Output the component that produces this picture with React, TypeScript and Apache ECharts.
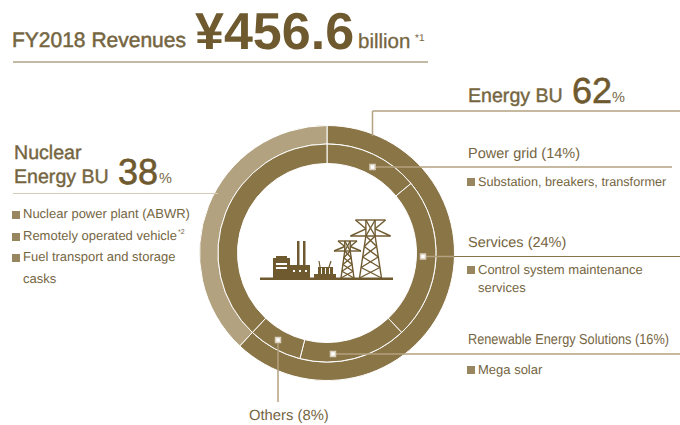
import React, { useEffect, useRef } from "react";
import * as echarts from "echarts";

const buNames = ["Energy BU", "Nuclear Energy BU"];
const buValues = [62, 38];
const segmentNames = ["Power grid", "Services", "Renewable Energy Solutions", "Others", "Nuclear"];
const segmentValues = [14, 24, 16, 8, 38];
const headline = ["FY2018 Revenues", "¥456.6", "billion", "*1"];
const nuclearItems = ["Nuclear power plant (ABWR)", "Remotely operated vehicle", "Fuel transport and storage", "casks"];
const powerItems = ["Substation, breakers, transformer"];
const serviceItems = ["Control system maintenance", "services"];
const renewableItems = ["Mega solar"];

const FONT = '"Liberation Sans", Arial, sans-serif';
const DARK = "#6f5a30";
const TEXT = "#75653f";
const RING = "#8a7547";
const LIGHT = "#b3a27f";
const BULLET = "#97865f";

const txt = (text: string, x: number, base: number, size: number, fill = TEXT, extra: any = {}) => ({
  type: "text", x, y: base - size * 0.34, z: 20, scaleX: extra.scaleX || 1,
  style: { text, fill, font: `${extra.weight || "normal"} ${size}px ${FONT}`, verticalAlign: "middle", align: "left",
    stroke: extra.stroke ? fill : undefined, lineWidth: extra.stroke || 0 },
});
const seg = (x1: number, y1: number, x2: number, y2: number, stroke = LIGHT, lineWidth = 1.5) => ({
  type: "line", z: 15, shape: { x1, y1, x2, y2 }, style: { stroke, lineWidth },
});
const box = (x: number, y: number, w: number, h: number, fill: string) => ({
  type: "rect", z: 16, shape: { x, y, width: w, height: h }, style: { fill },
});
const marker = (cx: number, cy: number) => ({
  type: "rect", z: 17, shape: { x: cx - 2.5, y: cy - 2.5, width: 5, height: 5 },
  style: { fill: "#fff", stroke: "#d9d0be", lineWidth: 1.5 },
});
const bullet = (x: number, y: number) => box(x, y, 8, 8, BULLET);

function tower(cx: number, top: number, bottom: number, halfFoot: number, armTop: number, armLow: number, yLow: number) {
  const c = DARK;
  const w = 1.4;
  const out: any[] = [];
  const waist = halfFoot * 0.42;
  const edge = (y: number) => y <= yLow ? waist : waist + (halfFoot - waist) * (y - yLow) / (bottom - yLow);
  out.push(seg(cx - waist, top, cx - waist, yLow, c, w), seg(cx + waist, top, cx + waist, yLow, c, w));
  out.push(seg(cx - waist, yLow, cx - halfFoot, bottom, c, w), seg(cx + waist, yLow, cx + halfFoot, bottom, c, w));
  out.push(seg(cx - armTop, top, cx + armTop, top, c, w));
  out.push(seg(cx - armTop, top, cx - waist, top + (yLow - top) * 0.55, c, w), seg(cx + armTop, top, cx + waist, top + (yLow - top) * 0.55, c, w));
  out.push(seg(cx - armLow, yLow, cx + armLow, yLow, c, w));
  out.push(seg(cx - armLow, yLow, cx - waist, top + (yLow - top) * 0.55, c, w), seg(cx + armLow, yLow, cx + waist, top + (yLow - top) * 0.55, c, w));
  const n = 4;
  out.push(seg(cx - waist, top, cx + waist, yLow, c, w), seg(cx + waist, top, cx - waist, yLow, c, w));
  for (let i = 0; i < n; i++) {
    const y1 = yLow + (bottom - yLow) * i / n, y2 = yLow + (bottom - yLow) * (i + 1) / n;
    out.push(seg(cx - edge(y1), y1, cx + edge(y2), y2, c, w), seg(cx + edge(y1), y1, cx - edge(y2), y2, c, w));
  }
  return out;
}

const icon = (): any[] => [
  box(260, 277.5, 133, 2.5, DARK),
  box(276, 256, 11, 3, DARK), box(273, 258, 17, 20, DARK),
  box(276, 263, 11, 2, "#fff"), box(276, 267, 11, 2, "#fff"),
  box(290, 265, 20, 13, DARK), box(297, 241, 2.5, 25, DARK), box(303, 241, 2.5, 25, DARK),
  box(293, 270, 2, 2, "#fff"), box(299, 270, 2, 2, "#fff"), box(305, 270, 2, 2, "#fff"),
  box(314, 274, 22, 4, DARK), box(318, 267, 15, 8, DARK),
  box(321, 268, 1, 6, "#fff"), box(325, 268, 1, 6, "#fff"), box(329, 268, 1, 6, "#fff"),
  seg(320, 267, 319, 261, DARK, 1.2), seg(329, 267, 331, 261, DARK, 1.2),
  ...tower(347.5, 241, 278, 6.5, 9.5, 13.5, 251),
  ...tower(370.5, 220, 278, 11, 15, 20, 236),
];

export default function App() {
  const ref = useRef<HTMLDivElement>(null);
  useEffect(() => {
    const chart = echarts.init(ref.current!, undefined, { renderer: "svg" });
    const graphics: any[] = [
      txt(headline[0], 12, 48, 21, TEXT, { stroke: 0.5 }),
      txt(headline[1], 195, 50, 52, DARK, { weight: "bold" }),
      txt(headline[2], 358, 48, 20.5, TEXT, { stroke: 0.3 }),
      txt(headline[3], 415, 42, 10, TEXT),
      seg(13, 62, 428, 62, RING, 1),

      txt(buNames[0], 468, 103, 19.6, TEXT, { stroke: 0.4 }),
      txt(String(buValues[0]), 572, 103, 36, DARK, { stroke: 0.6 }),
      txt("%", 612, 103, 14.5, TEXT),
      seg(372.5, 111, 680, 111, LIGHT, 1.5), seg(372.5, 111, 372.5, 136, LIGHT, 1.5),

      txt(`${segmentNames[0]} (${segmentValues[0]}%)`, 468, 159, 14.5),
      seg(372.5, 167, 672, 167, LIGHT, 1.5), marker(372.5, 167),
      bullet(467, 178), txt(powerItems[0], 478, 186, 12.7),

      txt(`${segmentNames[1]} (${segmentValues[1]}%)`, 468, 248, 14.5),
      seg(423, 256.5, 680, 256.5, RING, 1), seg(423, 256.5, 454, 256.5, LIGHT, 1.5), marker(423, 256.5),
      bullet(467, 266), txt(serviceItems[0], 478, 274, 13), txt(serviceItems[1], 478, 292, 13),

      txt(`${segmentNames[2]} (${segmentValues[2]}%)`, 468, 345, 14.5, TEXT, { scaleX: 0.878 }),
      seg(333, 354, 680, 354, LIGHT, 1.5), marker(333, 354),
      bullet(467, 366), txt(renewableItems[0], 478, 374, 13),

      txt(`${segmentNames[3]} (${segmentValues[3]}%)`, 249, 421, 14.8),
      seg(278, 340, 278, 402, LIGHT, 1.5), marker(278, 340),

      txt("Nuclear", 14, 160, 19.6, TEXT, { stroke: 0.4 }),
      txt("Energy BU", 14, 184, 19.6, TEXT, { stroke: 0.4 }),
      txt(String(buValues[1]), 118, 184, 36, DARK, { stroke: 0.6 }),
      txt("%", 159, 184, 14.5, TEXT),
      seg(13, 193.5, 218, 193.5, "#d5ccba", 1.2),
      bullet(12, 211), txt(nuclearItems[0], 23, 218, 13),
      bullet(12, 233), txt(nuclearItems[1], 23, 240, 13), txt("*2", 178, 235, 7),
      bullet(12, 254), txt(nuclearItems[2], 23, 261, 13), txt(nuclearItems[3], 23, 283, 13),
      ...icon(),
    ];
    const common = { type: "pie", center: [327, 253], startAngle: 90, clockwise: true, animation: false, silent: true,
      label: { show: false }, labelLine: { show: false }, emphasis: { disabled: true } };
    chart.setOption({
      animation: false,
      series: [
        { ...common, radius: [109, 127.5],
          itemStyle: { borderColor: "#fff", borderWidth: 1 },
          data: buNames.map((name, i) => ({ name, value: buValues[i], itemStyle: { color: i === 0 ? RING : LIGHT } })) },
        { ...common, radius: [89.5, 109],
          itemStyle: { borderColor: "#fff", borderWidth: 1, color: RING },
          data: segmentNames.map((name, i) => ({ name, value: segmentValues[i] })) },
      ],
      graphic: { elements: graphics },
    });
    return () => chart.dispose();
  }, []);
  return <div ref={ref} style={{ position: "absolute", left: 0, top: 0, width: 680, height: 425, textRendering: "geometricPrecision" }} />;
}
